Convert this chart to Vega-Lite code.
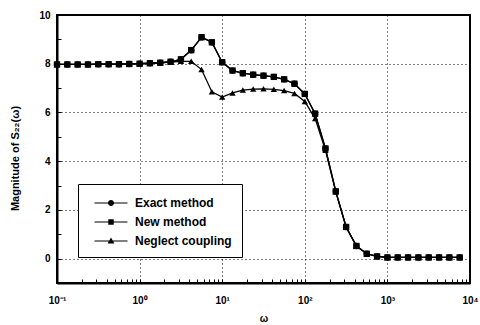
{
  "$schema": "https://vega.github.io/schema/vega-lite/v6.json",
  "width": 413,
  "height": 268,
  "autosize": "none",
  "padding": {"left": 57, "top": 15, "right": 10, "bottom": 42},
  "background": "white",
  "config": {
    "view": {"stroke": "black", "strokeWidth": 2},
    "font": "Liberation Sans",
    "axis": {
      "domainColor": "black", "domainWidth": 2,
      "tickColor": "black", "tickWidth": 1,
      "labelFont": "Liberation Sans", "labelFontWeight": "bold", "labelFontSize": 10, "labelColor": "black",
      "titleFont": "Liberation Sans", "titleFontWeight": "bold", "titleFontSize": 11, "titleColor": "black",
      "gridColor": "black", "gridDash": [1, 3], "gridWidth": 1
    }
  },
  "data": {
    "values": [
      {"w": 0.1, "series": "Exact method", "m": 7.97},
      {"w": 0.1334, "series": "Exact method", "m": 7.97},
      {"w": 0.1778, "series": "Exact method", "m": 7.97},
      {"w": 0.2371, "series": "Exact method", "m": 7.97},
      {"w": 0.3162, "series": "Exact method", "m": 7.98},
      {"w": 0.4217, "series": "Exact method", "m": 7.98},
      {"w": 0.5623, "series": "Exact method", "m": 7.98},
      {"w": 0.7499, "series": "Exact method", "m": 7.99},
      {"w": 1, "series": "Exact method", "m": 8.0},
      {"w": 1.3335, "series": "Exact method", "m": 8.02},
      {"w": 1.7783, "series": "Exact method", "m": 8.04},
      {"w": 2.3714, "series": "Exact method", "m": 8.08},
      {"w": 3.1623, "series": "Exact method", "m": 8.18},
      {"w": 4.217, "series": "Exact method", "m": 8.55},
      {"w": 5.6234, "series": "Exact method", "m": 9.08},
      {"w": 7.4989, "series": "Exact method", "m": 8.88},
      {"w": 10, "series": "Exact method", "m": 8.06},
      {"w": 13.335, "series": "Exact method", "m": 7.72},
      {"w": 17.783, "series": "Exact method", "m": 7.61},
      {"w": 23.714, "series": "Exact method", "m": 7.55},
      {"w": 31.623, "series": "Exact method", "m": 7.51},
      {"w": 42.17, "series": "Exact method", "m": 7.46},
      {"w": 56.234, "series": "Exact method", "m": 7.36},
      {"w": 74.989, "series": "Exact method", "m": 7.18},
      {"w": 100, "series": "Exact method", "m": 6.76},
      {"w": 133.35, "series": "Exact method", "m": 5.95},
      {"w": 177.83, "series": "Exact method", "m": 4.52},
      {"w": 237.14, "series": "Exact method", "m": 2.76},
      {"w": 316.23, "series": "Exact method", "m": 1.3},
      {"w": 421.7, "series": "Exact method", "m": 0.52},
      {"w": 562.34, "series": "Exact method", "m": 0.2},
      {"w": 749.89, "series": "Exact method", "m": 0.09},
      {"w": 1000, "series": "Exact method", "m": 0.05},
      {"w": 1333.5, "series": "Exact method", "m": 0.05},
      {"w": 1778.3, "series": "Exact method", "m": 0.05},
      {"w": 2371.4, "series": "Exact method", "m": 0.05},
      {"w": 3162.3, "series": "Exact method", "m": 0.05},
      {"w": 4217, "series": "Exact method", "m": 0.05},
      {"w": 5623.4, "series": "Exact method", "m": 0.05},
      {"w": 7498.9, "series": "Exact method", "m": 0.05},

      {"w": 0.1, "series": "New method", "m": 7.97},
      {"w": 0.1334, "series": "New method", "m": 7.97},
      {"w": 0.1778, "series": "New method", "m": 7.97},
      {"w": 0.2371, "series": "New method", "m": 7.97},
      {"w": 0.3162, "series": "New method", "m": 7.98},
      {"w": 0.4217, "series": "New method", "m": 7.98},
      {"w": 0.5623, "series": "New method", "m": 7.98},
      {"w": 0.7499, "series": "New method", "m": 7.99},
      {"w": 1, "series": "New method", "m": 8.0},
      {"w": 1.3335, "series": "New method", "m": 8.02},
      {"w": 1.7783, "series": "New method", "m": 8.04},
      {"w": 2.3714, "series": "New method", "m": 8.08},
      {"w": 3.1623, "series": "New method", "m": 8.18},
      {"w": 4.217, "series": "New method", "m": 8.56},
      {"w": 5.6234, "series": "New method", "m": 9.09},
      {"w": 7.4989, "series": "New method", "m": 8.88},
      {"w": 10, "series": "New method", "m": 8.06},
      {"w": 13.335, "series": "New method", "m": 7.72},
      {"w": 17.783, "series": "New method", "m": 7.61},
      {"w": 23.714, "series": "New method", "m": 7.55},
      {"w": 31.623, "series": "New method", "m": 7.51},
      {"w": 42.17, "series": "New method", "m": 7.46},
      {"w": 56.234, "series": "New method", "m": 7.36},
      {"w": 74.989, "series": "New method", "m": 7.18},
      {"w": 100, "series": "New method", "m": 6.76},
      {"w": 133.35, "series": "New method", "m": 5.95},
      {"w": 177.83, "series": "New method", "m": 4.52},
      {"w": 237.14, "series": "New method", "m": 2.76},
      {"w": 316.23, "series": "New method", "m": 1.3},
      {"w": 421.7, "series": "New method", "m": 0.52},
      {"w": 562.34, "series": "New method", "m": 0.2},
      {"w": 749.89, "series": "New method", "m": 0.09},
      {"w": 1000, "series": "New method", "m": 0.05},
      {"w": 1333.5, "series": "New method", "m": 0.05},
      {"w": 1778.3, "series": "New method", "m": 0.05},
      {"w": 2371.4, "series": "New method", "m": 0.05},
      {"w": 3162.3, "series": "New method", "m": 0.05},
      {"w": 4217, "series": "New method", "m": 0.05},
      {"w": 5623.4, "series": "New method", "m": 0.05},
      {"w": 7498.9, "series": "New method", "m": 0.05},

      {"w": 0.1, "series": "Neglect coupling", "m": 7.97},
      {"w": 0.1334, "series": "Neglect coupling", "m": 7.97},
      {"w": 0.1778, "series": "Neglect coupling", "m": 7.97},
      {"w": 0.2371, "series": "Neglect coupling", "m": 7.97},
      {"w": 0.3162, "series": "Neglect coupling", "m": 7.98},
      {"w": 0.4217, "series": "Neglect coupling", "m": 7.98},
      {"w": 0.5623, "series": "Neglect coupling", "m": 7.98},
      {"w": 0.7499, "series": "Neglect coupling", "m": 7.99},
      {"w": 1, "series": "Neglect coupling", "m": 8.0},
      {"w": 1.3335, "series": "Neglect coupling", "m": 8.02},
      {"w": 1.7783, "series": "Neglect coupling", "m": 8.04},
      {"w": 2.3714, "series": "Neglect coupling", "m": 8.07},
      {"w": 3.1623, "series": "Neglect coupling", "m": 8.1},
      {"w": 4.217, "series": "Neglect coupling", "m": 8.1},
      {"w": 5.6234, "series": "Neglect coupling", "m": 7.76},
      {"w": 7.4989, "series": "Neglect coupling", "m": 6.85},
      {"w": 10, "series": "Neglect coupling", "m": 6.63},
      {"w": 13.335, "series": "Neglect coupling", "m": 6.8},
      {"w": 17.783, "series": "Neglect coupling", "m": 6.92},
      {"w": 23.714, "series": "Neglect coupling", "m": 6.96},
      {"w": 31.623, "series": "Neglect coupling", "m": 6.97},
      {"w": 42.17, "series": "Neglect coupling", "m": 6.95},
      {"w": 56.234, "series": "Neglect coupling", "m": 6.9},
      {"w": 74.989, "series": "Neglect coupling", "m": 6.78},
      {"w": 100, "series": "Neglect coupling", "m": 6.45},
      {"w": 133.35, "series": "Neglect coupling", "m": 5.75},
      {"w": 177.83, "series": "Neglect coupling", "m": 4.45},
      {"w": 237.14, "series": "Neglect coupling", "m": 2.74},
      {"w": 316.23, "series": "Neglect coupling", "m": 1.3},
      {"w": 421.7, "series": "Neglect coupling", "m": 0.52},
      {"w": 562.34, "series": "Neglect coupling", "m": 0.2},
      {"w": 749.89, "series": "Neglect coupling", "m": 0.09},
      {"w": 1000, "series": "Neglect coupling", "m": 0.05},
      {"w": 1333.5, "series": "Neglect coupling", "m": 0.05},
      {"w": 1778.3, "series": "Neglect coupling", "m": 0.05},
      {"w": 2371.4, "series": "Neglect coupling", "m": 0.05},
      {"w": 3162.3, "series": "Neglect coupling", "m": 0.05},
      {"w": 4217, "series": "Neglect coupling", "m": 0.05},
      {"w": 5623.4, "series": "Neglect coupling", "m": 0.05},
      {"w": 7498.9, "series": "Neglect coupling", "m": 0.05}
    ]
  },
  "encoding": {
    "x": {
      "field": "w", "type": "quantitative",
      "scale": {"type": "log", "domain": [0.1, 10000], "nice": false},
      "axis": {
        "title": "ω",
        "titleFontSize": 10,
        "titleY": 30,
        "values": [0.1,0.2,0.3,0.4,0.5,0.6,0.7,0.8,0.9,1,2,3,4,5,6,7,8,9,10,20,30,40,50,60,70,80,90,100,200,300,400,500,600,700,800,900,1000,2000,3000,4000,5000,6000,7000,8000,9000,10000],
        "labelExpr": "datum.value == 0.1 ? '10⁻¹' : datum.value == 1 ? '10⁰' : datum.value == 10 ? '10¹' : datum.value == 100 ? '10²' : datum.value == 1000 ? '10³' : datum.value == 10000 ? '10⁴' : ''",
        "labelFlush": false,
        "labelOverlap": false,
        "tickSize": -4,
        "labelPadding": 16,
        "grid": true,
        "gridOpacity": {"condition": {"test": "datum.value == 1 || datum.value == 10 || datum.value == 100 || datum.value == 1000", "value": 1}, "value": 0}
      }
    },
    "y": {
      "field": "m", "type": "quantitative",
      "scale": {"domain": [-1, 10], "nice": false, "zero": false},
      "axis": {
        "title": "Magnitude of S₂₂(ω)",
        "titleX": -37,
        "titleY": 143,
        "values": [0, 1, 2, 3, 4, 5, 6, 7, 8, 9, 10],
        "labelExpr": "datum.value % 2 == 0 ? datum.label : ''",
        "labelOverlap": false,
        "labelFlush": false,
        "tickSize": -4,
        "labelPadding": 11,
        "grid": true,
        "gridOpacity": {"condition": {"test": "datum.value % 2 == 0 && datum.value < 10", "value": 1}, "value": 0}
      }
    }
  },
  "layer": [
    {
      "mark": {"type": "line", "color": "black", "strokeWidth": 1.3},
      "encoding": {"detail": {"field": "series"}}
    },
    {
      "mark": {"type": "point", "filled": true, "color": "black", "opacity": 1, "size": 40},
      "encoding": {
        "shape": {
          "field": "series", "type": "nominal",
          "scale": {"domain": ["Exact method", "New method", "Neglect coupling"], "range": ["circle", "square", "triangle-up"]},
          "legend": null
        }
      }
    },
    {
      "mark": {"type": "point", "filled": true, "fill": "black", "stroke": "black", "strokeWidth": 1, "opacity": 0, "size": 289},
      "encoding": {
        "shape": {
          "field": "series", "type": "nominal",
          "scale": {
            "domain": ["Exact method", "New method", "Neglect coupling"],
            "range": [
              "M-1.94,-0.06H1.94V0.06H-1.94ZM0.35,0A0.35,0.35 0 1 1 -0.35,0A0.35,0.35 0 1 1 0.35,0Z",
              "M-1.94,-0.06H1.94V0.06H-1.94ZM-0.32,-0.32H0.32V0.32H-0.32Z",
              "M-1.94,-0.06H1.94V0.06H-1.94ZM0,-0.42L0.4,0.3H-0.4Z"
            ]
          },
          "legend": {
            "title": null,
            "orient": "none",
            "legendX": 21,
            "legendY": 169,
            "padding": 10,
            "strokeColor": "black",
            "fillColor": "white",
            "symbolSize": 289,
            "symbolOpacity": 1,
            "symbolFillColor": "black",
            "symbolStrokeColor": "black",
            "symbolStrokeWidth": 1,
            "symbolOffset": 14,
            "labelOffset": 15,
            "rowPadding": 4,
            "labelFont": "Liberation Sans",
            "labelFontWeight": "bold",
            "labelFontSize": 12,
            "labelColor": "black",
            "labelLimit": 300
          }
        }
      }
    }
  ],
  "resolve": {"scale": {"shape": "independent"}, "legend": {"shape": "independent"}}
}
